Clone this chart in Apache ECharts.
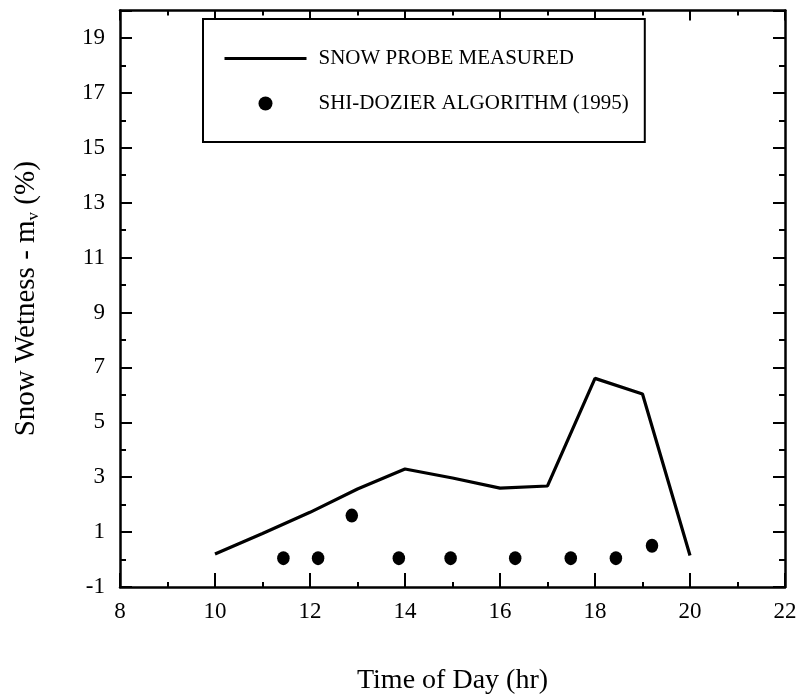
<!DOCTYPE html>
<html>
<head>
<meta charset="utf-8">
<script src="https://cdn.jsdelivr.net/npm/echarts@6.0.0/dist/echarts.min.js"></script>
<style>
  html, body { margin: 0; padding: 0; background: #fff; }
  #chart { width: 805px; height: 700px; }
</style>
</head>
<body>
<div id="chart"></div>
<script>
// Snow probe readings, hourly
const probeHours = [10, 11, 12, 13, 14, 15, 16, 17, 18, 19, 20];
const probeWetness = [0.2, 0.95, 1.72, 2.57, 3.3, 2.97, 2.6, 2.68, 6.6, 6.03, 0.15];

// Shi-Dozier algorithm estimates
const algoHours = [11.44, 12.17, 12.88, 13.87, 14.96, 16.32, 17.49, 18.44, 19.2];
const algoWetness = [0.05, 0.05, 1.6, 0.05, 0.05, 0.05, 0.05, 0.05, 0.5];

// Axis ranges and labels
const xRange = [8, 22];
const xStep = 2;
const yRange = [-1, 20];
const yStep = 2;

const seriesNames = ['SNOW PROBE MEASURED', 'SHI-DOZIER ALGORITHM (1995)'];
const xTitle = 'Time of Day (hr)';

const serif = "'Liberation Serif', 'Times New Roman', serif";
const ink = '#000';

function xAxisDef(pos) {
  const bottom = pos === 'bottom';
  return {
    type: 'value',
    position: pos,
    min: xRange[0],
    max: xRange[1],
    interval: xStep,
    axisLine: { show: true, onZero: false, lineStyle: { color: ink, width: 2.5 } },
    axisTick: { show: true, inside: true, length: bottom ? 14 : 10, lineStyle: { color: ink, width: 2 } },
    minorTick: { show: true, splitNumber: 2, length: 5, lineStyle: { color: ink, width: 2 } },
    splitLine: { show: false },
    axisLabel: { show: bottom, color: ink, fontSize: 23, fontFamily: serif, margin: 13 },
    name: bottom ? xTitle : '',
    nameLocation: 'middle',
    nameGap: 80,
    nameTextStyle: { color: ink, fontSize: 28, fontFamily: serif }
  };
}

function yAxisDef(pos) {
  const left = pos === 'left';
  return {
    type: 'value',
    position: pos,
    min: yRange[0],
    max: yRange[1],
    interval: yStep,
    axisLine: { show: true, onZero: false, lineStyle: { color: ink, width: 2.5 } },
    axisTick: { show: true, inside: true, length: 12, lineStyle: { color: ink, width: 2 } },
    minorTick: { show: true, splitNumber: 2, length: 6, lineStyle: { color: ink, width: 2 } },
    splitLine: { show: false },
    axisLabel: {
      show: left, color: ink, fontSize: 23, fontFamily: serif, margin: 15,
      showMaxLabel: false,
      formatter: v => (Math.abs(v % 2) === 1 ? String(v) : '')
    },
    name: left ? 'Snow Wetness - m{sub|v} (%)' : '',
    nameLocation: 'middle',
    nameRotate: 90,
    nameGap: 78,
    nameTextStyle: {
      color: ink, fontSize: 29, fontFamily: serif,
      rich: {
        sub: { fontSize: 17, fontFamily: serif, color: ink, padding: [15, 0, 0, 0] }
      }
    }
  };
}

const chart = echarts.init(document.getElementById('chart'), null, { renderer: 'canvas' });

chart.setOption({
  animation: false,
  backgroundColor: '#fff',
  grid: { left: 120, right: 20, top: 10.5, bottom: 112, containLabel: false },
  legend: {
    orient: 'vertical',
    left: 203,
    top: 19,
    width: 442,
    data: [
      { name: seriesNames[0], itemStyle: { opacity: 0 }, lineStyle: { width: 3, color: ink } },
      { name: seriesNames[1] }
    ],
    itemWidth: 82,
    itemHeight: 14,
    itemGap: 24,
    padding: [29, 16, 28, 20],
    borderColor: ink,
    borderWidth: 2,
    backgroundColor: '#fff',
    textStyle: { color: ink, fontSize: 21, fontFamily: serif, padding: [0, 0, 0, 7] }
  },
  xAxis: [xAxisDef('bottom'), xAxisDef('top')],
  yAxis: [yAxisDef('left'), yAxisDef('right')],
  series: [
    {
      name: seriesNames[0],
      type: 'line',
      data: probeHours.map((h, i) => [h, probeWetness[i]]),
      symbol: 'none',
      lineStyle: { color: ink, width: 3.2 },
      itemStyle: { color: ink },
      z: 3
    },
    {
      name: seriesNames[1],
      type: 'scatter',
      data: algoHours.map((h, i) => [h, algoWetness[i]]),
      symbol: 'circle',
      symbolSize: [12.5, 14],
      itemStyle: { color: ink, opacity: 1 },
      z: 4
    }
  ]
});
</script>
</body>
</html>
